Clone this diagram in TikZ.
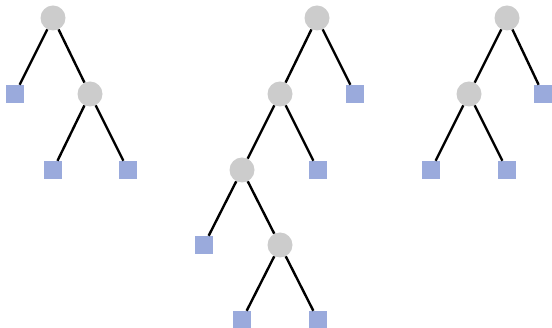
\documentclass[tikz,border=0pt]{standalone}
\begin{document}
\begin{tikzpicture}[x=1pt,y=-1pt,
  inner/.style={circle,draw=none,minimum size=25pt,inner sep=0pt},
  leaf/.style={rectangle,draw=none,minimum size=18pt,inner sep=0pt},
  edge/.style={line width=2.4pt,black}]
\definecolor{leafc}{HTML}{9AAADC}
\definecolor{innc}{HTML}{CCCCCC}
\tikzset{inner/.append style={fill=innc},leaf/.append style={fill=leafc}}
\useasboundingbox (0,0) rectangle (552,328);
% tree 1
\node[inner] (a1) at (53,18) {};
\node[leaf] (a2) at (15,94) {};
\node[inner] (a3) at (90,94) {};
\node[leaf] (a4) at (53,170) {};
\node[leaf] (a5) at (128,170) {};
\draw[edge] (a1) -- (a2);
\draw[edge] (a1) -- (a3);
\draw[edge] (a3) -- (a4);
\draw[edge] (a3) -- (a5);
% tree 2
\node[inner] (b1) at (317,18) {};
\node[inner] (b2) at (280,94) {};
\node[leaf] (b3) at (355,94) {};
\node[inner] (b4) at (242,170) {};
\node[leaf] (b5) at (318,170) {};
\node[leaf] (b6) at (204,245) {};
\node[inner] (b7) at (280,245) {};
\node[leaf] (b8) at (242,320) {};
\node[leaf] (b9) at (318,320) {};
\draw[edge] (b1) -- (b2);
\draw[edge] (b1) -- (b3);
\draw[edge] (b2) -- (b4);
\draw[edge] (b2) -- (b5);
\draw[edge] (b4) -- (b6);
\draw[edge] (b4) -- (b7);
\draw[edge] (b7) -- (b8);
\draw[edge] (b7) -- (b9);
% tree 3
\node[inner] (c1) at (507,18) {};
\node[inner] (c2) at (469,94) {};
\node[leaf] (c3) at (543,94) {};
\node[leaf] (c4) at (431,170) {};
\node[leaf] (c5) at (507,170) {};
\draw[edge] (c1) -- (c2);
\draw[edge] (c1) -- (c3);
\draw[edge] (c2) -- (c4);
\draw[edge] (c2) -- (c5);
\end{tikzpicture}
\end{document}
